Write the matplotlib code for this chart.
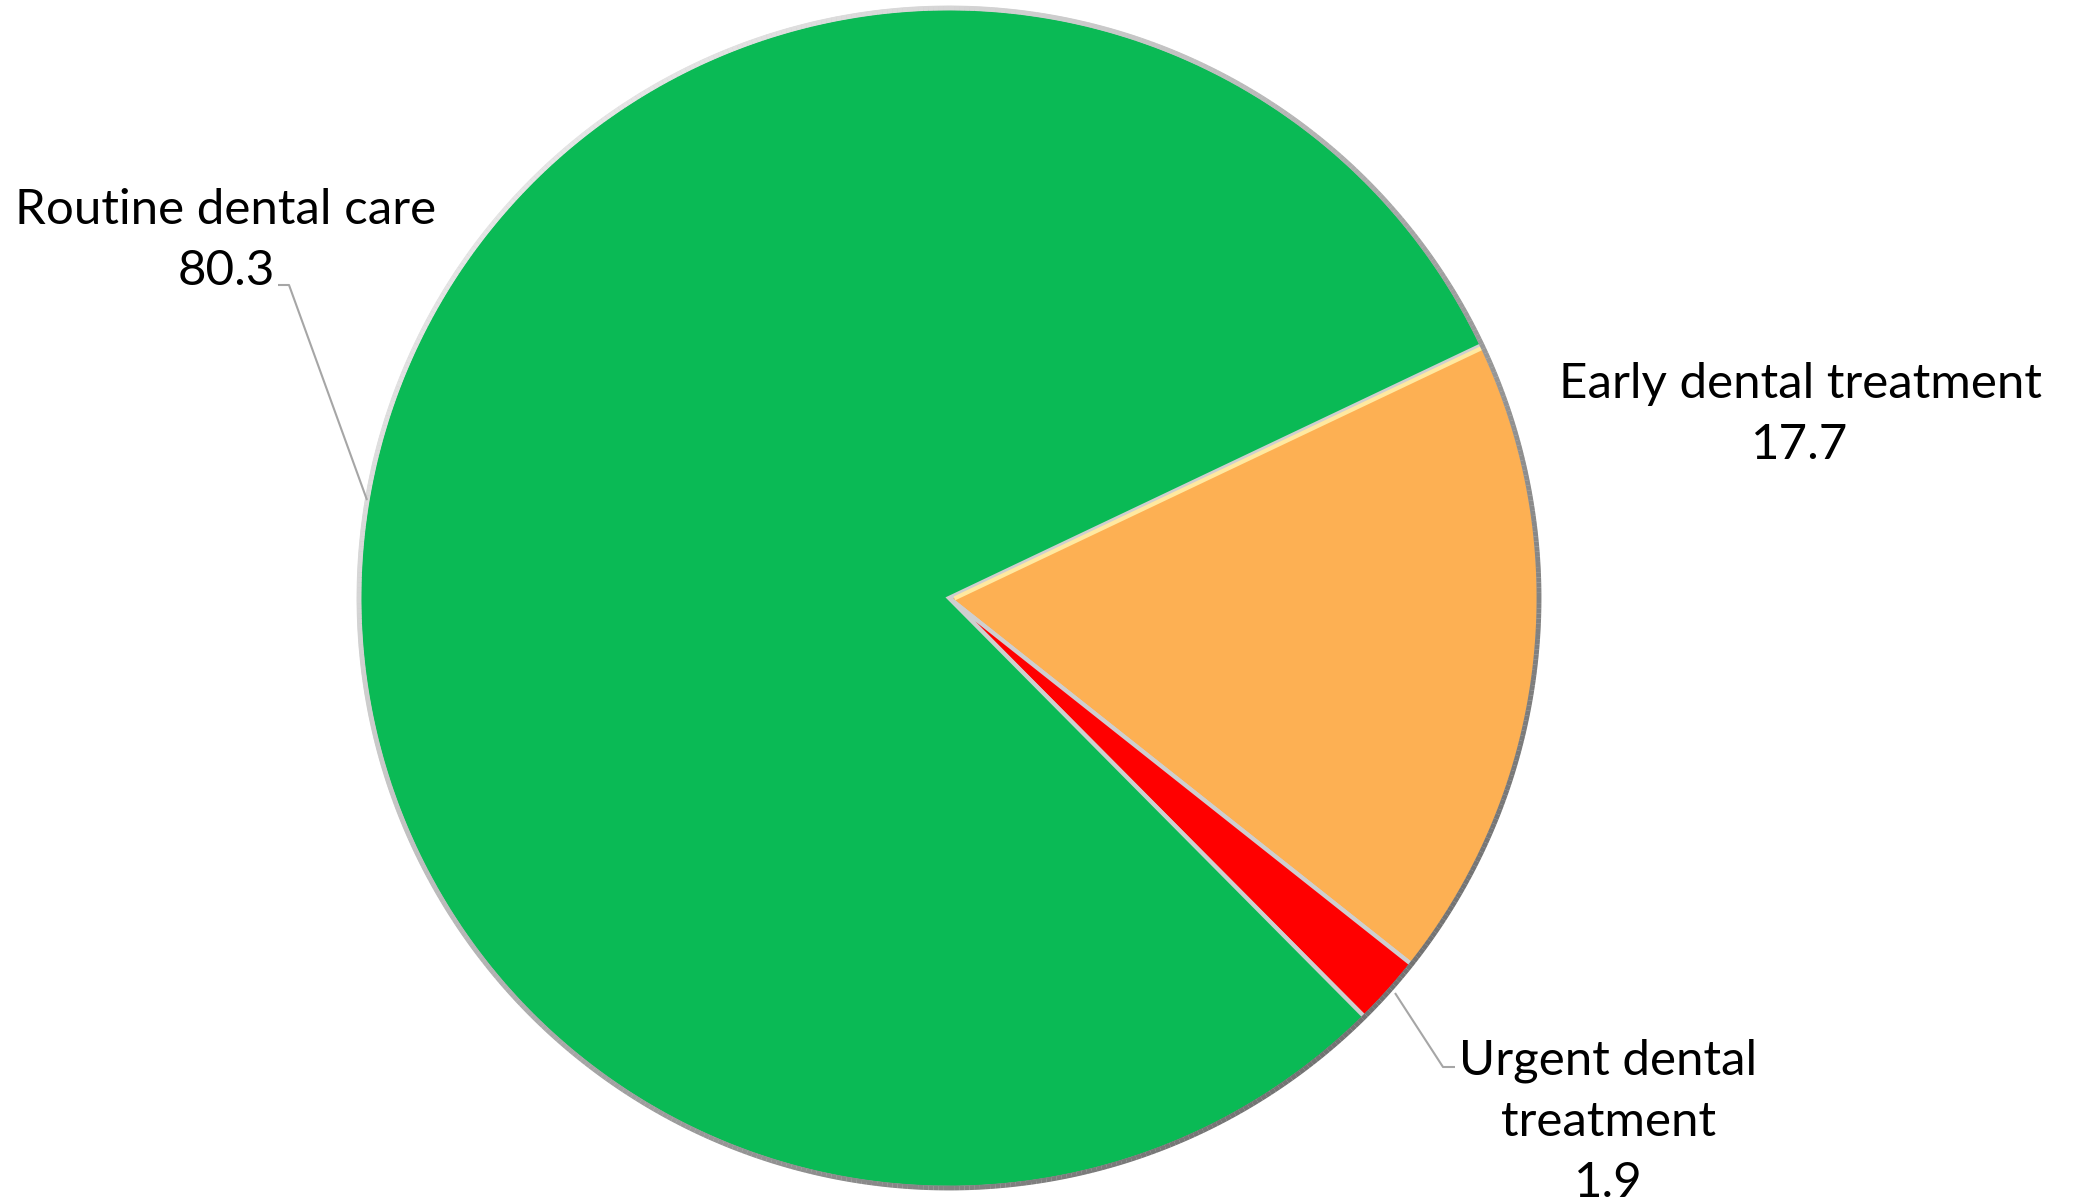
import matplotlib
matplotlib.use("Agg")
import matplotlib.pyplot as plt
from matplotlib.collections import LineCollection
import numpy as np

categories = ["Early dental treatment", "Urgent dental\ntreatment", "Routine dental care"]
values = [17.7, 1.9, 80.3]
colors = ["#FDB053", "#FF0000", "#0ABA55"]

W, H = 2075, 1202
fig = plt.figure(figsize=(W / 100, H / 100), dpi=100)
ax = fig.add_axes([0, 0, 1, 1])

cx, cy, r = 949, H - 598, 590
wedges, _ = ax.pie(values, colors=colors, startangle=25.4, counterclock=False,
                   center=(cx, cy), radius=r, frame=True,
                   wedgeprops=dict(edgecolor="#CFCFCF", linewidth=3))
ax.set_xlim(0, W)
ax.set_ylim(0, H)
ax.set_aspect("equal")
ax.axis("off")

# bevel-like highlight on the upper edge of the orange slice
w0 = wedges[0]
a = np.deg2rad(w0.theta2)
ax.plot([cx + 6 * np.cos(a), cx + r * np.cos(a)], [cy + 6 * np.sin(a) - 3, cy + r * np.sin(a) - 3],
        color="#FFE9A0", lw=3, zorder=4, solid_capstyle="butt")

# outer rim with light-to-dark shading
th = np.linspace(0, 2 * np.pi, 721)
pts = np.column_stack([cx + r * np.cos(th), cy + r * np.sin(th)])
segs = np.stack([pts[:-1], pts[1:]], axis=1)
mid = (th[:-1] + th[1:]) / 2
shade = (1 + np.cos(mid - np.deg2rad(135))) / 2  # 1 at upper-left, 0 at lower-right
rim_cols = [(0.45 + 0.45 * s,) * 3 for s in shade]
ax.add_collection(LineCollection(segs, colors=rim_cols, linewidths=3.5, zorder=5))

font = dict(family=["Lato", "DejaVu Sans"], fontsize=35.5, color="black",
            ha="center", va="baseline", linespacing=1.47)

ax.text(226, H - 285, f"{categories[2]}\n{values[2]}", **font)
ax.text(1800, H - 459, f"{categories[0]}\n{values[0]}", **font)
ax.text(1608, H - 1197, f"{categories[1]}\n{values[1]}", **font)

def leader(pts):
    ax.plot([p[0] for p in pts], [H - p[1] for p in pts], color="#A6A6A6", lw=1.5,
            zorder=6, solid_capstyle="butt")

leader([(278, 285), (289, 285), (367, 500)])
leader([(1455, 1067), (1443, 1067), (1395, 993)])

fig.savefig("out.png", dpi=100)
